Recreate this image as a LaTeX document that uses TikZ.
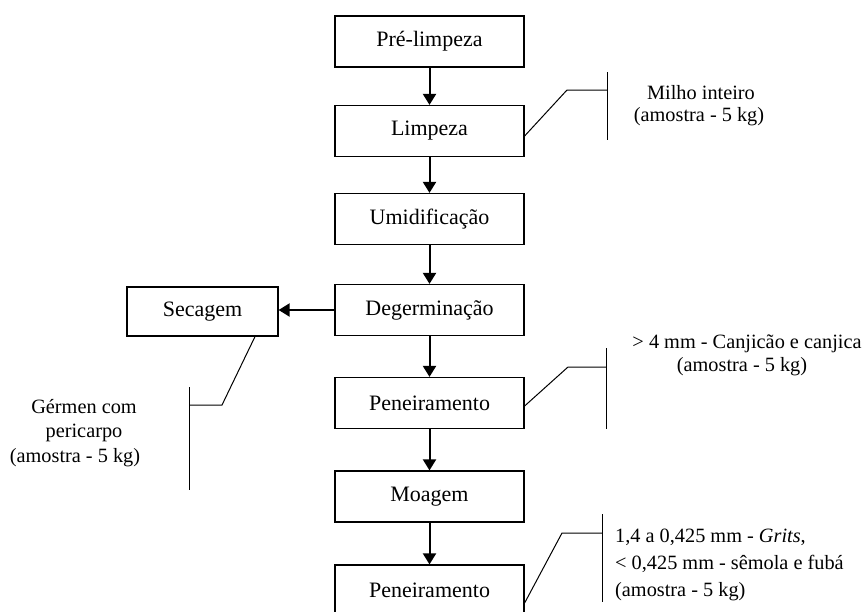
\documentclass[tikz,border=0pt]{standalone}
\usepackage{fontspec}
\setmainfont{Liberation Serif}
\usetikzlibrary{arrows.meta}
\begin{document}
\begin{tikzpicture}[x=1pt,y=-1pt,
 proc/.style={draw, line width=1.2pt, minimum width=189pt, minimum height=51pt, inner sep=0pt, font=\fontsize{22}{26}\selectfont},
 flow/.style={line width=2pt, -{Triangle[width=13pt,length=11pt]}},
 lead/.style={line width=1pt},
 note/.style={font=\fontsize{20.3}{24}\selectfont, inner sep=0pt}]
\useasboundingbox (0,0) rectangle (864,611);
\clip (0,0) rectangle (864,611);
\node[proc] (p1) at (429.5,41.5) {Pré-limpeza};
\node[proc] (p2) at (429.5,131) {Limpeza};
\node[proc] (p3) at (429.5,219) {Umidificação};
\node[proc] (p4) at (429.5,310) {Degerminação};
\node[proc] (p5) at (429.5,403) {Peneiramento};
\node[proc] (p6) at (429.5,496.5) {Moagem};
\node[proc] (p7) at (429.5,590.5) {Peneiramento};
\node[proc, minimum width=151pt, minimum height=49pt] (sec) at (202.5,311.5) {Secagem};
\draw[flow] (p1) -- (p2);
\draw[flow] (p2) -- (p3);
\draw[flow] (p3) -- (p4);
\draw[flow] (p4) -- (p5);
\draw[flow] (p5) -- (p6);
\draw[flow] (p6) -- (p7);
\draw[flow] (p4.west) -- (sec.east |- p4.west);
% Limpeza annotation
\coordinate (a1) at (567,90);
\coordinate (a1e) at (607,90);
\coordinate (v1t) at (607,72);
\coordinate (v1b) at (607,140);
\draw[lead] ([yshift=-5pt]p2.east) -- (a1) -- (a1e);
\draw[lead] (v1t) -- (v1b);
\node[note] (t1a) at (701,93) {Milho inteiro};
\node[note] (t1b) at (699,117) {(amostra - 5 kg)};
% Peneiramento 1 annotation
\coordinate (a2) at (568,367);
\coordinate (a2e) at (606,367);
\coordinate (v2t) at (606,348);
\coordinate (v2b) at (606,429);
\draw[lead] ([yshift=-3pt]p5.east) -- (a2) -- (a2e);
\draw[lead] (v2t) -- (v2b);
\node[note] (t2a) at (747,344) {> 4 mm - Canjicão e canjica};
\node[note] (t2b) at (742,367) {(amostra - 5 kg)};
% Peneiramento 2 annotation
\coordinate (a3) at (562,533);
\coordinate (a3e) at (602,533);
\coordinate (v3t) at (602,514);
\coordinate (v3b) at (602,602);
\draw[lead] ([yshift=-12.5pt]p7.east) -- (a3) -- (a3e);
\draw[lead] (v3t) -- (v3b);
\node[note, anchor=west] (t3a) at (615,537) {1,4 a 0,425 mm - \textit{Grits},};
\node[note, anchor=west] (t3b) at (615,564) {< 0,425 mm - sêmola e fubá};
\node[note, anchor=west] (t3c) at (615,592) {(amostra - 5 kg)};
% Secagem annotation
\coordinate (a4) at (222,405);
\coordinate (a4e) at (189,405);
\coordinate (v4t) at (189,387);
\coordinate (v4b) at (189,490);
\draw[lead] ([xshift=52.5pt]sec.south) -- (a4) -- (a4e);
\draw[lead] (v4t) -- (v4b);
\node[note] (t4a) at (84,407) {Gérmen com};
\node[note] (t4b) at (84,433) {pericarpo};
\node[note] (t4c) at (75,458) {(amostra - 5 kg)};
\end{tikzpicture}
\end{document}
